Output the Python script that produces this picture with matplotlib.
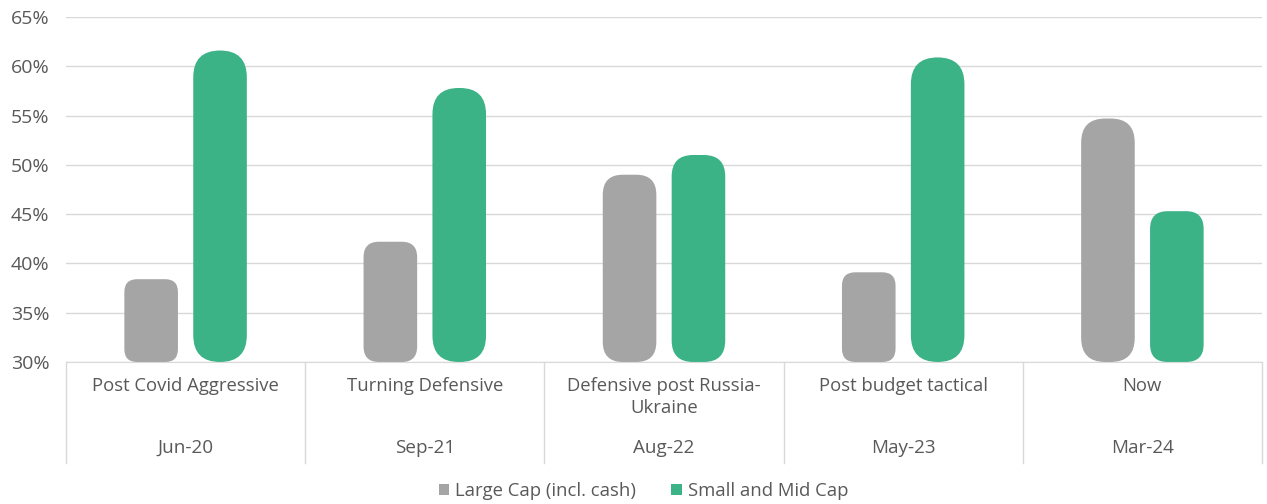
import numpy as np
import matplotlib
matplotlib.use("Agg")
import matplotlib.pyplot as plt
from matplotlib.patches import FancyBboxPatch, Patch
import matplotlib.transforms as mtransforms

# chart data
phases = ["Post Covid Aggressive", "Turning Defensive", "Defensive post Russia-\nUkraine",
          "Post budget tactical", "Now"]
dates = ["Jun-20", "Sep-21", "Aug-22", "May-23", "Mar-24"]
large_cap = [38.4, 42.2, 49.0, 39.1, 54.7]
small_mid_cap = [61.6, 57.8, 51.0, 60.9, 45.3]
series_names = ["Large Cap (incl. cash)", "Small and Mid Cap"]
yticks = [30, 35, 40, 45, 50, 55, 60, 65]

GRAY = "#A5A5A5"
GREEN = "#3BB386"
TEXT = "#595959"
GRID = "#D9D9D9"

plt.rcParams['font.family'] = ['Open Sans', 'DejaVu Sans']

fig = plt.figure(figsize=(12.67, 5.04), dpi=100)
ax = fig.add_axes([66 / 1267, 142 / 504, 1196 / 1267, 345 / 504])

x = np.arange(len(phases))
w = 0.224
off = 0.144
ax.set_xlim(-0.5, len(phases) - 0.5)
ax.set_ylim(30, 65)

bars_l = ax.bar(x - off, np.array(large_cap) - 30, w, bottom=30, color=GRAY)
bars_s = ax.bar(x + off, np.array(small_mid_cap) - 30, w, bottom=30, color=GREEN)

# swap the square bars for rounded ones
fig.canvas.draw()
px_x = ax.transData.transform((1, 0))[0] - ax.transData.transform((0, 0))[0]
px_y = ax.transData.transform((0, 1))[1] - ax.transData.transform((0, 0))[1]
aspect = px_x / px_y
for bars in (bars_l, bars_s):
    for b in bars:
        bx, by = b.get_x(), b.get_y()
        bw, bh = b.get_width(), b.get_height()
        w_px = bw * px_x
        h_px = bh * px_y
        r_px = min(w_px / 2, 7 + 0.07 * h_px)
        rp = FancyBboxPatch((bx, by), bw, bh,
                            boxstyle=f"round,pad=0,rounding_size={r_px / px_x}",
                            mutation_aspect=aspect,
                            facecolor=b.get_facecolor(), edgecolor="none", zorder=3)
        b.set_visible(False)
        ax.add_patch(rp)

# axes styling
ax.set_yticks(yticks)
ax.set_yticklabels([f"{v}%" for v in yticks])
ax.tick_params(axis='y', length=0, pad=12, labelsize=14, labelcolor=TEXT)
ax.set_xticks([])
ax.grid(axis='y', color=GRID, linewidth=1)
ax.set_axisbelow(True)
for s in ("top", "right", "left"):
    ax.spines[s].set_visible(False)
ax.spines["bottom"].set_color(GRID)
ax.spines["bottom"].set_zorder(4)

# two-level category axis
trans = mtransforms.blended_transform_factory(ax.transData, ax.transAxes)
for xb in np.arange(len(phases) + 1) - 0.5:
    ax.plot([xb, xb], [0, -0.293], transform=trans, color=GRID, linewidth=1, clip_on=False)
for i in x:
    ax.text(i, -0.043, phases[i], transform=trans, ha="center", va="top",
            fontsize=13.3, color=TEXT, linespacing=1.3)
    ax.text(i, -0.249, dates[i], transform=trans, ha="center", va="center",
            fontsize=13.6, color=TEXT)

handles = [Patch(facecolor=GRAY, label=series_names[0]),
           Patch(facecolor=GREEN, label=series_names[1])]
leg = fig.legend(handles=handles, loc="center", bbox_to_anchor=(0.508, 13 / 504), ncol=2,
                 frameon=False, fontsize=13.3, handlelength=0.55, handleheight=0.55,
                 handletextpad=0.35, columnspacing=1.9)
for t in leg.get_texts():
    t.set_color(TEXT)

fig.savefig("out.png", dpi=100, facecolor="white")
